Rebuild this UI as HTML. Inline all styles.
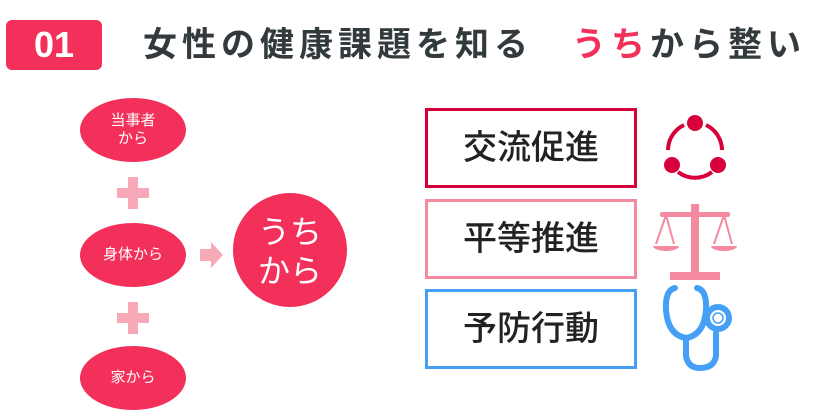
<!DOCTYPE html><html><head><meta charset="utf-8"><style>
body{margin:0;width:827px;height:416px;background:#fff;position:relative;overflow:hidden;font-family:"Liberation Sans","Noto Sans CJK JP",sans-serif}
.a{position:absolute}
.badge{left:6px;top:20px;width:96px;height:50px;background:#f2305a;border-radius:6px;color:#fff;font-weight:bold;font-size:36px;text-align:center;line-height:50px}
.title{left:143px;top:22px;font-size:34px;letter-spacing:5px;font-weight:bold;color:#333a3d;line-height:46px;white-space:nowrap}
.el{background:#f2305a;color:#fff;border-radius:50%;width:106px;height:64px;display:flex;align-items:center;justify-content:center;text-align:center;font-size:15px;line-height:18px}
.box{left:425px;width:206px;height:74px;border:3px solid;background:#fff;font-size:34px;color:#222;text-align:center;line-height:74px;font-weight:500}
</style></head><body>
<div class="a badge">01</div>
<div class="a title">女性の健康課題を知る　<span style="color:#f2305a">うち</span>から整い</div>
<div class="a el" style="left:80px;top:98px">当事者<br>から</div>
<div class="a el" style="left:80px;top:223px">身体から</div>
<div class="a el" style="left:80px;top:346px">家から</div>
<svg class="a" style="left:0;top:0" width="827" height="416">
<g fill="#f8a9b8">
<rect x="117" y="188" width="32" height="10"/><rect x="128" y="177" width="10" height="32"/>
<rect x="117" y="313" width="32" height="10"/><rect x="128" y="302" width="10" height="32"/>
<polygon points="200,249 211,249 211,242 223,255 211,268 211,261 200,261"/>
</g>
<circle cx="290" cy="250" r="57" fill="#f2305a"/>
<text x="290" y="243" font-size="32" fill="#fff" text-anchor="middle" font-family="Liberation Sans,Noto Sans CJK JP,sans-serif">うち</text>
<text x="290" y="282" font-size="32" fill="#fff" text-anchor="middle" font-family="Liberation Sans,Noto Sans CJK JP,sans-serif">から</text>
<g stroke="#d8003a" stroke-width="4" fill="none">
<path d="M684,125 A28,28 0 0 0 668,150"/><path d="M706,125 A28,28 0 0 1 722,150"/><path d="M678,172 A28,28 0 0 0 712,172"/>
</g>
<g fill="#d8003a"><circle cx="695" cy="123" r="8"/><circle cx="672" cy="165" r="8"/><circle cx="718" cy="165" r="8"/></g>
<g fill="#f48aa0" stroke="#f48aa0">
<rect x="691" y="204" width="8" height="70" stroke="none"/>
<rect x="660" y="212" width="70" height="5" rx="2" stroke="none"/>
<rect x="670" y="272" width="50" height="8" stroke="none"/>
<path d="M666,215 L656,244 M666,215 L674,244 M724,215 L714,244 M724,215 L732,244" stroke-width="2" fill="none"/>
<path d="M653,246 L679,246 A13,5 0 0 1 653,246Z M711,246 L737,246 A13,5 0 0 1 711,246Z" stroke="none"/>
</g>
<g stroke="#45a0f5" fill="none" stroke-width="6" stroke-linecap="round">
<path d="M675,288 Q665,290 666,310 Q668,335 686,338 Q704,335 706,310 Q707,290 697,288"/>
<path d="M686,338 L686,356 Q688,368 700,368 Q714,368 716,356 L716,333"/>
<circle cx="718" cy="318" r="11"/>
</g>
<circle cx="718" cy="318" r="5" fill="none" stroke="#45a0f5" stroke-width="1.5"/>
</svg>
<div class="a box" style="top:108px;border-color:#d8003a">交流促進</div>
<div class="a box" style="top:199px;border-color:#f48aa0">平等推進</div>
<div class="a box" style="top:289px;border-color:#45a0f5">予防行動</div>
</body></html>
